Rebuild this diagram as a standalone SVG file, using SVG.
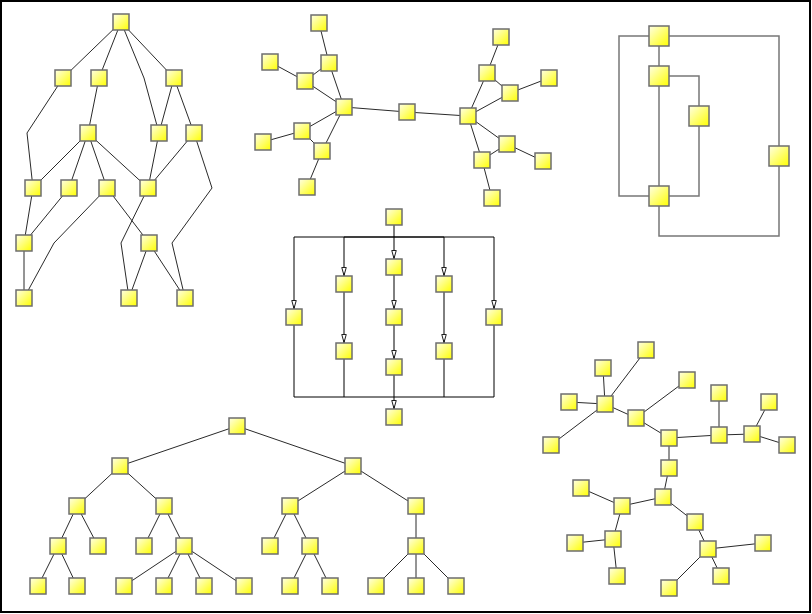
<svg xmlns="http://www.w3.org/2000/svg" width="812" height="614" viewBox="0 0 812 614">
<style>
.n{fill:url(#g);stroke:#6e6e6e;stroke-width:1.5}
.e{fill:none;stroke:#2a2a2a;stroke-width:1}
.o{fill:none;stroke:#777;stroke-width:1.5}
.a{fill:none;stroke:#000;stroke-width:1;marker-end:url(#ar)}
.b{fill:none;stroke:#000;stroke-width:1}
</style>
<defs>
<linearGradient id="g" x1="0" y1="0" x2="1" y2="1">
<stop offset="0" stop-color="#ffffe6"/>
<stop offset="1" stop-color="#ffff00"/>
</linearGradient>
<marker id="ar" viewBox="0 0 10 6" refX="10" refY="3" markerWidth="9" markerHeight="6" markerUnits="userSpaceOnUse" orient="auto">
<path d="M0.5,0.5 L9.5,3 L0.5,5.5 z" fill="#fff" stroke="#000" stroke-width="1"/>
</marker>
</defs>
<rect x="0" y="0" width="812" height="614" fill="#fff"/>
<rect x="1" y="1" width="809" height="611" fill="none" stroke="#000" stroke-width="2"/>
<g id="connectors">
<!-- graph 1 -->
<path class="e" d="M121,22L63,78M121,22L99,78M121,22L144,78L159,133M121,22L174,78M63,78L27,133L33,188M99,78L88,133M174,78L159,133M174,78L194,133M88,133L33,188M88,133L69,188M88,133L107,188M88,133L148,188M159,133L148,188M194,133L148,188M194,133L212,188L172,243L185,298M33,188L24,243M69,188L24,243M107,188L54,243L24,298M107,188L149,243M148,188L121,243L129,298M24,243L24,298M149,243L129,298M149,243L185,298"/>
<!-- graph 2 -->
<path class="e" d="M344,107L407,112L468,116M344,107L329,63L319,23M329,63L305,81L270,62M305,81L344,107M344,107L302,131L263,142M302,131L322,151M344,107L322,151L307,187M468,116L487,73L501,37M487,73L510,93L549,78M510,93L468,116M468,116L507,144L543,161M507,144L482,160M468,116L482,160L492,198"/>
<!-- graph 3 -->
<path class="o" d="M649,36H619V196H649M669,36H779V146M659,46V66M669,76H699V106M659,86V186M699,126V196H669M659,206V236H779V166"/>
<!-- graph 4 -->
<path class="a" d="M394,225V259"/>
<path class="a" d="M394,237H294V309"/>
<path class="a" d="M394,237H344V276"/>
<path class="a" d="M394,237H444V276"/>
<path class="a" d="M394,237H494V309"/>
<path class="a" d="M344,292V343"/>
<path class="a" d="M394,275V309"/>
<path class="a" d="M394,325V359"/>
<path class="a" d="M444,292V343"/>
<path class="b" d="M294,325V397H494V325M344,359V397M444,359V397"/>
<path class="a" d="M394,375V409"/>
<!-- graph 5 -->
<path class="e" d="M237,426L120,466M237,426L353,466M120,466L77,506M120,466L164,506M353,466L290,506M353,466L416,506M77,506L58,546M77,506L98,546M164,506L144,546M164,506L184,546M290,506L270,546M290,506L310,546M416,506L416,546M58,546L38,586M58,546L77,586M184,546L124,586M184,546L164,586M184,546L204,586M184,546L244,586M310,546L290,586M310,546L330,586M416,546L376,586M416,546L416,586M416,546L456,586"/>
<!-- graph 6 -->
<path class="e" d="M605,404L646,350M605,404L603,368M605,404L569,402M605,404L551,445M605,404L636,418L687,380M636,418L669,438L719,435L719,393M719,435L752,434L769,402M752,434L787,445M669,438L669,468L663,497L622,506L581,488M622,506L613,539L575,543M613,539L617,576M663,497L695,522L708,549L763,543M708,549L721,576M708,549L669,588"/>
</g>
<g id="g1">
<g id="a"><rect class="n" x="113" y="14" width="16" height="16"/></g>
<g id="b1"><rect class="n" x="55" y="70" width="16" height="16"/></g>
<g id="b2"><rect class="n" x="91" y="70" width="16" height="16"/></g>
<g id="b3"><rect class="n" x="166" y="70" width="16" height="16"/></g>
<g id="c1"><rect class="n" x="80" y="125" width="16" height="16"/></g>
<g id="c2"><rect class="n" x="151" y="125" width="16" height="16"/></g>
<g id="c3"><rect class="n" x="186" y="125" width="16" height="16"/></g>
<g id="d1"><rect class="n" x="25" y="180" width="16" height="16"/></g>
<g id="d2"><rect class="n" x="61" y="180" width="16" height="16"/></g>
<g id="d3"><rect class="n" x="99" y="180" width="16" height="16"/></g>
<g id="d4"><rect class="n" x="140" y="180" width="16" height="16"/></g>
<g id="e1"><rect class="n" x="16" y="235" width="16" height="16"/></g>
<g id="e2"><rect class="n" x="141" y="235" width="16" height="16"/></g>
<g id="f1"><rect class="n" x="16" y="290" width="16" height="16"/></g>
<g id="f2"><rect class="n" x="121" y="290" width="16" height="16"/></g>
<g id="f3"><rect class="n" x="177" y="290" width="16" height="16"/></g>
</g>
<g id="g2">
<g id="hl"><rect class="n" x="336" y="99" width="16" height="16"/></g>
<g id="hm"><rect class="n" x="399" y="104" width="16" height="16"/></g>
<g id="hr"><rect class="n" x="460" y="108" width="16" height="16"/></g>
<g id="l1"><rect class="n" x="311" y="15" width="16" height="16"/></g>
<g id="l2"><rect class="n" x="321" y="55" width="16" height="16"/></g>
<g id="l3"><rect class="n" x="297" y="73" width="16" height="16"/></g>
<g id="l4"><rect class="n" x="262" y="54" width="16" height="16"/></g>
<g id="l5"><rect class="n" x="294" y="123" width="16" height="16"/></g>
<g id="l6"><rect class="n" x="255" y="134" width="16" height="16"/></g>
<g id="l7"><rect class="n" x="314" y="143" width="16" height="16"/></g>
<g id="l8"><rect class="n" x="299" y="179" width="16" height="16"/></g>
<g id="r1"><rect class="n" x="493" y="29" width="16" height="16"/></g>
<g id="r2"><rect class="n" x="479" y="65" width="16" height="16"/></g>
<g id="r3"><rect class="n" x="502" y="85" width="16" height="16"/></g>
<g id="r4"><rect class="n" x="541" y="70" width="16" height="16"/></g>
<g id="r5"><rect class="n" x="499" y="136" width="16" height="16"/></g>
<g id="r6"><rect class="n" x="474" y="152" width="16" height="16"/></g>
<g id="r7"><rect class="n" x="535" y="153" width="16" height="16"/></g>
<g id="r8"><rect class="n" x="484" y="190" width="16" height="16"/></g>
</g>
<g id="g3">
<g id="t"><rect class="n" x="649" y="26" width="20" height="20"/></g>
<g id="u"><rect class="n" x="649" y="66" width="20" height="20"/></g>
<g id="v"><rect class="n" x="689" y="106" width="20" height="20"/></g>
<g id="w"><rect class="n" x="769" y="146" width="20" height="20"/></g>
<g id="x"><rect class="n" x="649" y="186" width="20" height="20"/></g>
</g>
<g id="g4">
<g id="s"><rect class="n" x="386" y="209" width="16" height="16"/></g>
<g id="k1"><rect class="n" x="286" y="309" width="16" height="16"/></g>
<g id="k2a"><rect class="n" x="336" y="276" width="16" height="16"/></g>
<g id="k2b"><rect class="n" x="336" y="343" width="16" height="16"/></g>
<g id="k3a"><rect class="n" x="386" y="259" width="16" height="16"/></g>
<g id="k3b"><rect class="n" x="386" y="309" width="16" height="16"/></g>
<g id="k3c"><rect class="n" x="386" y="359" width="16" height="16"/></g>
<g id="k4a"><rect class="n" x="436" y="276" width="16" height="16"/></g>
<g id="k4b"><rect class="n" x="436" y="343" width="16" height="16"/></g>
<g id="k5"><rect class="n" x="486" y="309" width="16" height="16"/></g>
<g id="ke"><rect class="n" x="386" y="409" width="16" height="16"/></g>
</g>
<g id="g5">
<g id="p0"><rect class="n" x="229" y="418" width="16" height="16"/></g>
<g id="p1"><rect class="n" x="112" y="458" width="16" height="16"/></g>
<g id="p2"><rect class="n" x="345" y="458" width="16" height="16"/></g>
<g id="p3"><rect class="n" x="69" y="498" width="16" height="16"/></g>
<g id="p4"><rect class="n" x="156" y="498" width="16" height="16"/></g>
<g id="p5"><rect class="n" x="282" y="498" width="16" height="16"/></g>
<g id="p6"><rect class="n" x="408" y="498" width="16" height="16"/></g>
<g id="p7"><rect class="n" x="50" y="538" width="16" height="16"/></g>
<g id="p8"><rect class="n" x="90" y="538" width="16" height="16"/></g>
<g id="p9"><rect class="n" x="136" y="538" width="16" height="16"/></g>
<g id="p10"><rect class="n" x="176" y="538" width="16" height="16"/></g>
<g id="p11"><rect class="n" x="262" y="538" width="16" height="16"/></g>
<g id="p12"><rect class="n" x="302" y="538" width="16" height="16"/></g>
<g id="p13"><rect class="n" x="408" y="538" width="16" height="16"/></g>
<g id="p14"><rect class="n" x="30" y="578" width="16" height="16"/></g>
<g id="p15"><rect class="n" x="69" y="578" width="16" height="16"/></g>
<g id="p16"><rect class="n" x="116" y="578" width="16" height="16"/></g>
<g id="p17"><rect class="n" x="156" y="578" width="16" height="16"/></g>
<g id="p18"><rect class="n" x="196" y="578" width="16" height="16"/></g>
<g id="p19"><rect class="n" x="236" y="578" width="16" height="16"/></g>
<g id="p20"><rect class="n" x="282" y="578" width="16" height="16"/></g>
<g id="p21"><rect class="n" x="322" y="578" width="16" height="16"/></g>
<g id="p22"><rect class="n" x="368" y="578" width="16" height="16"/></g>
<g id="p23"><rect class="n" x="408" y="578" width="16" height="16"/></g>
<g id="p24"><rect class="n" x="448" y="578" width="16" height="16"/></g>
</g>
<g id="g6">
<g id="q1"><rect class="n" x="638" y="342" width="16" height="16"/></g>
<g id="q2"><rect class="n" x="595" y="360" width="16" height="16"/></g>
<g id="q3"><rect class="n" x="561" y="394" width="16" height="16"/></g>
<g id="q4"><rect class="n" x="597" y="396" width="16" height="16"/></g>
<g id="q5"><rect class="n" x="679" y="372" width="16" height="16"/></g>
<g id="q6"><rect class="n" x="628" y="410" width="16" height="16"/></g>
<g id="q7"><rect class="n" x="543" y="437" width="16" height="16"/></g>
<g id="q8"><rect class="n" x="661" y="430" width="16" height="16"/></g>
<g id="q9"><rect class="n" x="711" y="385" width="16" height="16"/></g>
<g id="q10"><rect class="n" x="711" y="427" width="16" height="16"/></g>
<g id="q11"><rect class="n" x="761" y="394" width="16" height="16"/></g>
<g id="q12"><rect class="n" x="744" y="426" width="16" height="16"/></g>
<g id="q13"><rect class="n" x="779" y="437" width="16" height="16"/></g>
<g id="q14"><rect class="n" x="661" y="460" width="16" height="16"/></g>
<g id="q15"><rect class="n" x="655" y="489" width="16" height="16"/></g>
<g id="q16"><rect class="n" x="573" y="480" width="16" height="16"/></g>
<g id="q17"><rect class="n" x="614" y="498" width="16" height="16"/></g>
<g id="q18"><rect class="n" x="687" y="514" width="16" height="16"/></g>
<g id="q19"><rect class="n" x="567" y="535" width="16" height="16"/></g>
<g id="q20"><rect class="n" x="605" y="531" width="16" height="16"/></g>
<g id="q21"><rect class="n" x="700" y="541" width="16" height="16"/></g>
<g id="q22"><rect class="n" x="755" y="535" width="16" height="16"/></g>
<g id="q23"><rect class="n" x="609" y="568" width="16" height="16"/></g>
<g id="q24"><rect class="n" x="713" y="568" width="16" height="16"/></g>
<g id="q25"><rect class="n" x="661" y="580" width="16" height="16"/></g>
</g>
</svg>
